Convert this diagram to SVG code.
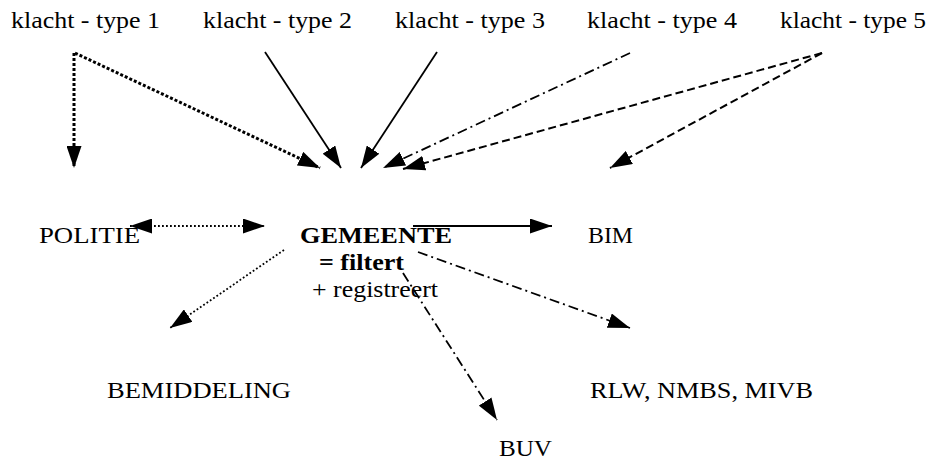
<svg xmlns="http://www.w3.org/2000/svg" width="932" height="461" viewBox="0 0 932 461">
<style>
text{font-family:"Liberation Serif","Times New Roman",serif;font-size:24px;fill:#000}
.b{font-weight:bold}
.c{fill:none;stroke:#000}
.solid{stroke-width:1.8}
.dotB{stroke-width:3;stroke-dasharray:3 2}
.dot{stroke-width:1.8;stroke-dasharray:1.8 2.2}
.dash{stroke-width:2;stroke-dasharray:8 4}
.dd{stroke-width:1.8;stroke-dasharray:10 4 2 4}
</style>
<defs>
<marker id="ah" viewBox="0 0 22 15" refX="22" refY="7.5" markerWidth="22" markerHeight="15" markerUnits="userSpaceOnUse" orient="auto-start-reverse">
<path d="M0,0 L22,7.5 L0,15 Z" fill="#000"/>
</marker>
</defs>
<rect width="932" height="461" fill="#fff"/>
<g id="connectors">
<path class="c dotB" d="M74,53 L74,168" marker-end="url(#ah)"/>
<path class="c dotB" d="M75,53 L320,168" marker-end="url(#ah)"/>
<path class="c solid" d="M265,52 L341,168" marker-end="url(#ah)"/>
<path class="c solid" d="M437,52 L361,168" marker-end="url(#ah)"/>
<path class="c dd" d="M630,53 L383,168" marker-end="url(#ah)"/>
<path class="c dash" d="M822,53 L403,169" marker-end="url(#ah)"/>
<path class="c dash" d="M822,53 L610,168" marker-end="url(#ah)"/>
<path class="c dot" d="M130,226 L265,226" marker-start="url(#ah)" marker-end="url(#ah)"/>
<path class="c solid" d="M413,226 L552,226" marker-end="url(#ah)"/>
<path class="c dot" d="M284,250 L170,328" marker-end="url(#ah)"/>
<path class="c dd" d="M418,252 L630,328" marker-end="url(#ah)"/>
<path class="c dd" d="M403,273 L497,420" marker-end="url(#ah)"/>
</g>
<g id="klacht1"><text x="11" y="28" textLength="149" lengthAdjust="spacingAndGlyphs">klacht - type 1</text></g>
<g id="klacht2"><text x="203" y="28" textLength="149" lengthAdjust="spacingAndGlyphs">klacht - type 2</text></g>
<g id="klacht3"><text x="395" y="28" textLength="150" lengthAdjust="spacingAndGlyphs">klacht - type 3</text></g>
<g id="klacht4"><text x="587" y="28" textLength="150" lengthAdjust="spacingAndGlyphs">klacht - type 4</text></g>
<g id="klacht5"><text x="780" y="28" textLength="146" lengthAdjust="spacingAndGlyphs">klacht - type 5</text></g>
<g id="politie"><text x="39" y="243" textLength="101" lengthAdjust="spacingAndGlyphs">POLITIE</text></g>
<g id="gemeente">
<text class="b" x="300" y="243" textLength="152" lengthAdjust="spacingAndGlyphs">GEMEENTE</text>
<text class="b" x="319" y="270" textLength="85" lengthAdjust="spacingAndGlyphs">= filtert</text>
<text x="312" y="297" textLength="126" lengthAdjust="spacingAndGlyphs">+ registreert</text>
</g>
<g id="bim"><text x="588" y="243" textLength="45" lengthAdjust="spacingAndGlyphs">BIM</text></g>
<g id="bemiddeling"><text x="107" y="398" textLength="184" lengthAdjust="spacingAndGlyphs">BEMIDDELING</text></g>
<g id="rlw"><text x="590" y="398" textLength="223" lengthAdjust="spacingAndGlyphs">RLW, NMBS, MIVB</text></g>
<g id="buv"><text x="499" y="456" textLength="53" lengthAdjust="spacingAndGlyphs">BUV</text></g>
</svg>
